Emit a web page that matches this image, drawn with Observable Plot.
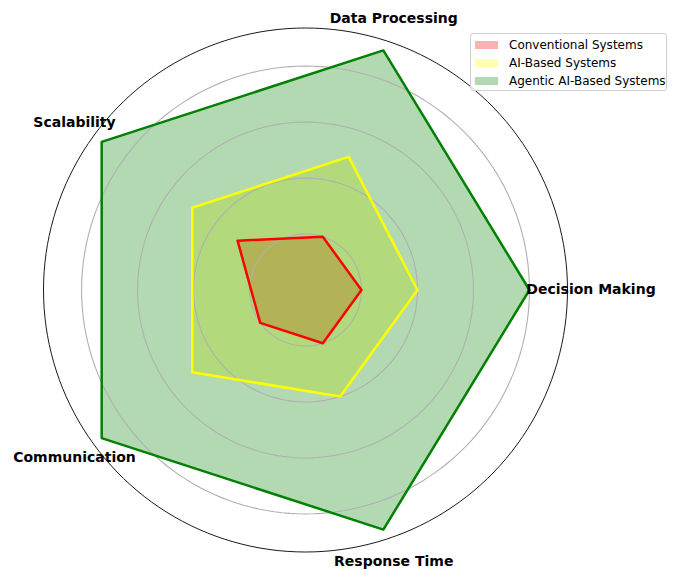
<!DOCTYPE html>
<html><head><meta charset="utf-8">
<script src="https://cdn.jsdelivr.net/npm/d3@7"></script>
<script src="https://cdn.jsdelivr.net/npm/@observablehq/plot@0.6"></script>
<style>
body{margin:0;background:#fff;font-family:"DejaVu Sans",sans-serif;}
#wrap{position:relative;width:674px;height:569px;}
#legend{position:absolute;left:470px;top:33px;width:197px;height:58px;border:1px solid #d0d0d0;border-radius:3px;background:rgba(255,255,255,0.8);box-sizing:border-box;padding:2px 0 0 4px;}
.row{display:flex;align-items:center;height:18px;font-size:12px;color:#000;white-space:nowrap;}
.sw{width:23px;height:8px;margin-right:11px;box-sizing:border-box;}
</style></head><body><div id="wrap"><div id="legend"></div></div>
<script>
const categories = ["Decision Making","Data Processing","Scalability","Communication","Response Time"];
const conventional = [2,2,3,2,2];
const aiBased = [4,5,5,5,4];
const agentic = [8,9,9,9,9];
const seriesNames = ["Conventional Systems","AI-Based Systems","Agentic AI-Based Systems"];
const seriesColors = ["#ff0000","#ffff00","#008000"];
const gridRings = [2,4,6,8];
const rMax = 9.36;
const labelR = 10.2;

const W = 674, H = 569;
const cx = 305, cy = 289.5, k = 262 / rMax;
const n = categories.length;
const ang = i => i * 2 * Math.PI / n;

const seriesVals = [conventional, aiBased, agentic];
const polys = [];
seriesVals.forEach((vals, s) => {
  for (let j = 0; j <= n; j++) {
    const i = j % n;
    polys.push({series: seriesNames[s], x: vals[i] * Math.cos(ang(i)), y: vals[i] * Math.sin(ang(i))});
  }
});

const ringPts = r => d3.range(0, 361, 2).map(a => ({r, x: r * Math.cos(a * Math.PI / 180), y: r * Math.sin(a * Math.PI / 180)}));
const rings = gridRings.flatMap(ringPts);
const outer = ringPts(rMax);
const labels = categories.map((c, i) => ({c, x: labelR * Math.cos(ang(i)), y: labelR * Math.sin(ang(i))}));

const marks = [];
seriesNames.forEach((s, idx) => {
  marks.push(Plot.line(polys.filter(d => d.series === s), {x: "x", y: "y", fill: seriesColors[idx], fillOpacity: 0.3, stroke: "none", curve: "linear-closed"}));
});
marks.push(Plot.line(rings, {x: "x", y: "y", z: "r", stroke: "#b0b0b0", strokeWidth: 1.1, curve: "linear-closed"}));
seriesNames.forEach((s, idx) => {
  marks.push(Plot.line(polys.filter(d => d.series === s), {x: "x", y: "y", stroke: seriesColors[idx], strokeWidth: 2.5, strokeLinejoin: "round"}));
});
marks.push(Plot.line(outer, {x: "x", y: "y", stroke: "#000", strokeWidth: 0.9, curve: "linear-closed"}));
marks.push(Plot.text(labels, {x: "x", y: "y", text: "c", fontWeight: "bold", fontSize: 14, fill: "#000", textAnchor: "middle"}));

const chart = Plot.plot({
  width: W, height: H,
  marginTop: 0, marginRight: 0, marginBottom: 0, marginLeft: 0,
  x: {domain: [-cx / k, (W - cx) / k], axis: null},
  y: {domain: [-(H - cy) / k, cy / k], axis: null},
  style: {fontFamily: "DejaVu Sans, sans-serif", background: "#fff", overflow: "visible"},
  marks
});
document.getElementById("wrap").prepend(chart);

const lg = document.getElementById("legend");
seriesNames.forEach((s, i) => {
  const row = document.createElement("div");
  row.className = "row";
  const sw = document.createElement("span");
  sw.className = "sw";
  sw.style.background = seriesColors[i];
  sw.style.opacity = 0.3;
  row.appendChild(sw);
  const t = document.createElement("span");
  t.textContent = s;
  row.appendChild(t);
  lg.appendChild(row);
});
</script>
</body></html>
